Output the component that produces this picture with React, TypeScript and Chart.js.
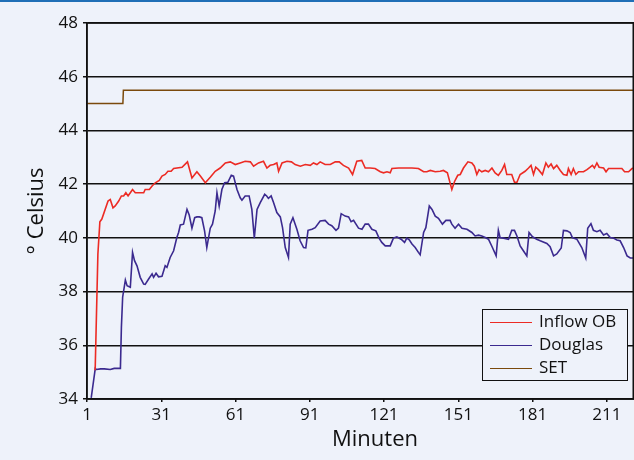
import React, { useEffect, useRef } from "react";
import { Chart, registerables } from "chart.js";

Chart.register(...registerables);

const xTicks = [1, 31, 61, 91, 121, 151, 181, 211];
const yTicks = [34, 36, 38, 40, 42, 44, 46, 48];

const seriesLabels = ["Inflow OB", "Douglas", "SET"];
const xTitle = "Minuten";
const yTitle = "° Celsius";

const inflowMinutes = [
  4.3, 5.4, 6.2, 7.0, 9.5, 10.4, 11.5, 12.4, 13.8, 14.9, 15.8, 16.7, 17.6, 18.5, 19.4, 20.5, 22.5, 23.9, 24.5, 26.2,
  27.3, 28.6, 30.2, 31.3, 32.6, 33.7, 35, 36, 39.4, 41.6, 43.4, 45.4, 46.8, 48.8, 50.8, 52.8, 54.8, 56.9, 58.9, 60.9,
  62.9, 64.9, 67, 68.3, 70.3, 72.3, 73.7, 75, 76.4, 77.7, 78.4, 79.8, 81.8, 83.6, 85.1, 87.2, 89.2, 91.2, 92.5, 93.9,
  95.2, 97.2, 99.3, 101.3, 102.9, 104.6, 106.7, 108.3, 110, 112, 113.4, 115.4, 117.4, 119.5, 120.8, 122.2, 123.5, 124.2, 126.9, 129.6,
  132.3, 134.9, 137, 138.3, 139.7, 141.7, 143.7, 145, 146.6, 148.4, 149.5, 150.8, 151.8, 153.1, 154.9, 156.5, 157.5, 158.5, 159.4, 160.5,
  161.9, 163.2, 164.6, 165.9, 167.2, 168.6, 169.7, 170.6, 172.6, 173.7, 174.7, 176, 178, 179.4, 180.4, 181.4, 182.3, 183.4, 185, 186.4,
  187.4, 188.5, 189.5, 190.8, 192.2, 193.5, 194.9, 195.5, 196.6, 197.5, 198.5, 199.6, 201.6, 203, 204.3, 205.2, 206, 207, 207.9, 209.7,
  210.7, 211.7, 214.4, 217.1, 218.2, 219.8, 221.2, 222,
];
const inflowValues = [
  35.07, 39.4, 40.6, 40.7, 41.37, 41.43, 41.12, 41.19, 41.37, 41.56, 41.56, 41.68, 41.56, 41.68, 41.8, 41.68, 41.68, 41.68, 41.8, 41.8,
  41.93, 42.05, 42.14, 42.3, 42.36, 42.48, 42.48, 42.58, 42.63, 42.83, 42.23, 42.46, 42.3, 42.05, 42.26, 42.48, 42.6, 42.79, 42.83, 42.73,
  42.79, 42.85, 42.83, 42.67, 42.79, 42.85, 42.6, 42.7, 42.73, 42.79, 42.48, 42.79, 42.85, 42.83, 42.73, 42.67, 42.73, 42.7, 42.79, 42.73,
  42.83, 42.73, 42.73, 42.83, 42.83, 42.7, 42.6, 42.36, 42.85, 42.88, 42.6, 42.6, 42.58, 42.46, 42.42, 42.46, 42.42, 42.58, 42.6, 42.6,
  42.6, 42.58, 42.46, 42.46, 42.51, 42.46, 42.48, 42.51, 42.42, 41.8, 42.1, 42.33, 42.36, 42.6, 42.83, 42.79, 42.67, 42.36, 42.54, 42.46,
  42.51, 42.46, 42.6, 42.42, 42.33, 42.51, 42.73, 42.36, 42.36, 42.07, 42.07, 42.36, 42.48, 42.6, 42.7, 42.36, 42.63, 42.54, 42.36, 42.79,
  42.63, 42.75, 42.58, 42.7, 42.51, 42.36, 42.33, 42.58, 42.36, 42.58, 42.36, 42.46, 42.46, 42.54, 42.63, 42.7, 42.6, 42.79, 42.63, 42.6,
  42.46, 42.58, 42.58, 42.58, 42.46, 42.46, 42.58, 42.6,
];

const douglasMinutes = [
  2.7, 4.35, 4.8, 6.5, 8, 10.4, 12, 14.5, 14.9, 15.4, 16.5, 17.2, 18.5, 19.4, 20.2, 21.2, 22.5, 23.9, 24.5, 25.9,
  27.3, 27.9, 28.9, 29.9, 31.3, 32.6, 33.3, 34.6, 36, 37.3, 38, 38.7, 40, 41.4, 42.3, 43.4, 44.5, 45.4, 46.4, 47.4,
  48.5, 49.4, 50.8, 51.7, 52.8, 53.5, 54.4, 55.5, 56.6, 57.9, 59.3, 60.2, 61.6, 62.9, 63.6, 64.9, 66.5, 67.6, 68.6, 69.7,
  71, 72.8, 73.6, 74.3, 75.4, 76.4, 77.7, 79.1, 80, 81.1, 82.4, 83.1, 84.2, 85.8, 87.1, 88.5, 89.4, 90.3, 91.9, 93.2,
  95.2, 97.2, 98.6, 99.9, 101.6, 102.6, 103.7, 105.3, 106.7, 107.7, 108.7, 110.7, 112.1, 113.4, 114.7, 116.1, 117.7, 119, 120.1, 121.5,
  123.5, 124.8, 126.2, 127.9, 129.3, 130.2, 131.2, 132.3, 133.6, 134.9, 135.6, 137, 137.9, 139.3, 140.4, 141.7, 143, 144.6, 146, 147.7,
  148.4, 149.7, 151.1, 152.5, 154.5, 156.5, 157.8, 159.2, 160.5, 161.9, 163.2, 164.8, 166.3, 167.2, 167.9, 169.3, 171.3, 172.6, 173.7, 174.7,
  176, 177.3, 178.7, 179.6, 181, 182.7, 184.1, 186.8, 188.1, 189.5, 190.8, 192.6, 193.5, 194.9, 196.2, 197.1, 198.9, 200.9, 202.5, 203.3,
  204.6, 205.6, 207, 208.3, 209.7, 211, 212.4, 213.7, 215.1, 216.4, 217.8, 219.2, 220.5, 222,
];
const douglasValues = [
  34.04, 35.14, 35.1, 35.12, 35.12, 35.1, 35.14, 35.14, 36.68, 37.79, 38.43, 38.22, 38.16, 39.46, 39.15, 38.96, 38.53, 38.28, 38.27, 38.47,
  38.66, 38.53, 38.68, 38.55, 38.57, 38.96, 38.9, 39.27, 39.52, 40.01, 40.2, 40.48, 40.51, 41.06, 40.85, 40.36, 40.75, 40.78, 40.78, 40.75,
  40.26, 39.64, 40.36, 40.51, 41.0, 41.68, 41.18, 41.8, 42.05, 42.07, 42.33, 42.3, 41.8, 41.49, 41.4, 41.56, 41.56, 41.06, 39.99, 41.06,
  41.31, 41.62, 41.56, 41.47, 41.56, 41.31, 40.94, 40.78, 40.38, 39.64, 39.27, 40.51, 40.75, 40.32, 39.89, 39.64, 39.63, 40.28, 40.32, 40.38,
  40.63, 40.65, 40.51, 40.45, 40.28, 40.36, 40.9, 40.81, 40.78, 40.6, 40.65, 40.36, 40.32, 40.51, 40.51, 40.32, 40.26, 39.99, 39.83, 39.7,
  39.7, 39.99, 40.04, 39.95, 39.83, 39.99, 39.93, 39.77, 39.64, 39.46, 39.37, 40.2, 40.38, 41.19, 41.06, 40.81, 40.73, 40.51, 40.65, 40.65,
  40.51, 40.36, 40.51, 40.36, 40.32, 40.2, 40.07, 40.1, 40.07, 40.01, 39.95, 39.64, 39.33, 40.28, 40.01, 39.99, 39.95, 40.28, 40.28, 40.07,
  39.7, 39.52, 39.33, 40.2, 40.04, 39.95, 39.89, 39.79, 39.67, 39.33, 39.4, 39.62, 40.28, 40.26, 40.2, 40.01, 39.95, 39.64, 39.25, 40.36,
  40.53, 40.28, 40.23, 40.28, 40.11, 40.16, 40.01, 39.99, 39.92, 39.89, 39.64, 39.33, 39.25, 39.25,
];

const setMinutes = [1, 15.5, 15.7, 222];
const setValues = [45, 45, 45.5, 45.5];

const FONT = "'Open Sans', 'Noto Sans', sans-serif";
const BG = "#eef2fa";

const toPoints = (xs: number[], ys: number[]) => xs.map((x, i) => ({ x, y: ys[i] }));

export default function App() {
  const ref = useRef<HTMLCanvasElement | null>(null);

  useEffect(() => {
    if (!ref.current) return;

    const frame = {
      id: "frame",
      afterDatasetsDraw(chart: any) {
        const { ctx, chartArea } = chart;
        ctx.save();
        ctx.strokeStyle = "#111";
        ctx.lineWidth = 1.5;
        ctx.strokeRect(chartArea.left, chartArea.top, chartArea.right - chartArea.left - 0.75, chartArea.bottom - chartArea.top);
        // legend
        const lx = 482, ly = 307, lw = 145, lh = 71;
        ctx.fillStyle = BG;
        ctx.fillRect(lx, ly, lw, lh);
        ctx.strokeStyle = "#111";
        ctx.lineWidth = 1;
        ctx.strokeRect(lx + 0.5, ly + 0.5, lw, lh);
        ctx.font = `17px ${FONT}`;
        ctx.textBaseline = "middle";
        chart.data.datasets.forEach((ds: any, i: number) => {
          const yy = ly + 13.5 + i * 23;
          ctx.strokeStyle = ds.borderColor;
          ctx.lineWidth = 1.2;
          ctx.beginPath();
          ctx.moveTo(lx + 8, yy);
          ctx.lineTo(lx + 50, yy);
          ctx.stroke();
          ctx.fillStyle = "#111";
          ctx.fillText(ds.label, lx + 57, yy);
        });
        // x-axis title
        ctx.font = `22px ${FONT}`;
        ctx.textAlign = "center";
        ctx.textBaseline = "middle";
        ctx.fillStyle = "#111";
        ctx.fillText(xTitle, 375, 438);
        ctx.restore();
      },
    };

    const chart = new Chart(ref.current, {
      type: "line",
      data: {
        datasets: [
          {
            label: seriesLabels[0],
            data: toPoints(inflowMinutes, inflowValues),
            borderColor: "#ec2b24",
            borderWidth: 1.6,
            pointRadius: 0,
            tension: 0,
          },
          {
            label: seriesLabels[1],
            data: toPoints(douglasMinutes, douglasValues),
            borderColor: "#3b2a8f",
            borderWidth: 1.6,
            pointRadius: 0,
            tension: 0,
          },
          {
            label: seriesLabels[2],
            data: toPoints(setMinutes, setValues),
            borderColor: "#7b4a0c",
            borderWidth: 1.5,
            pointRadius: 0,
            tension: 0,
          },
        ],
      },
      options: {
        responsive: false,
        animation: false,
        devicePixelRatio: 1,
        layout: { padding: { top: 21, right: 0, bottom: 0, left: 0 } },
        plugins: { legend: { display: false }, tooltip: { enabled: false } },
        scales: {
          x: {
            type: "linear",
            min: 1,
            max: 222,
            afterBuildTicks: (scale: any) => {
              scale.ticks = xTicks.map((v) => ({ value: v }));
            },
            afterFit: (scale: any) => {
              scale.height = 61;
            },
            grid: { drawOnChartArea: false, color: "#111", tickLength: 3, lineWidth: 1.5 },
            border: { color: "#111", width: 1.5 },
            ticks: { color: "#111", font: { family: FONT, size: 17 }, padding: 3, maxRotation: 0, autoSkip: false },
          },
          y: {
            min: 34,
            max: 48,
            afterBuildTicks: (scale: any) => {
              scale.ticks = yTicks.map((v) => ({ value: v }));
            },
            afterFit: (scale: any) => {
              scale.width = 87;
            },
            grid: { color: "#111", lineWidth: 1.5, tickLength: 4 },
            border: { color: "#111", width: 1.5 },
            ticks: { color: "#111", font: { family: FONT, size: 17 }, padding: 5 },
            title: {
              display: true,
              text: yTitle,
              color: "#111",
              font: { family: FONT, size: 22 },
              padding: { top: 24, bottom: 0 },
            },
          },
        },
      },
      plugins: [frame],
    } as any);

    return () => chart.destroy();
  }, []);

  return (
    <div
      style={{
        position: "absolute",
        left: 0,
        top: 0,
        width: 634,
        height: 460,
        background: BG,
        borderTop: "2px solid #1f6fb6",
        boxSizing: "border-box",
        overflow: "hidden",
      }}
    >
      <canvas ref={ref} width={634} height={458} style={{ display: "block", width: 634, height: 458 }} />
    </div>
  );
}
